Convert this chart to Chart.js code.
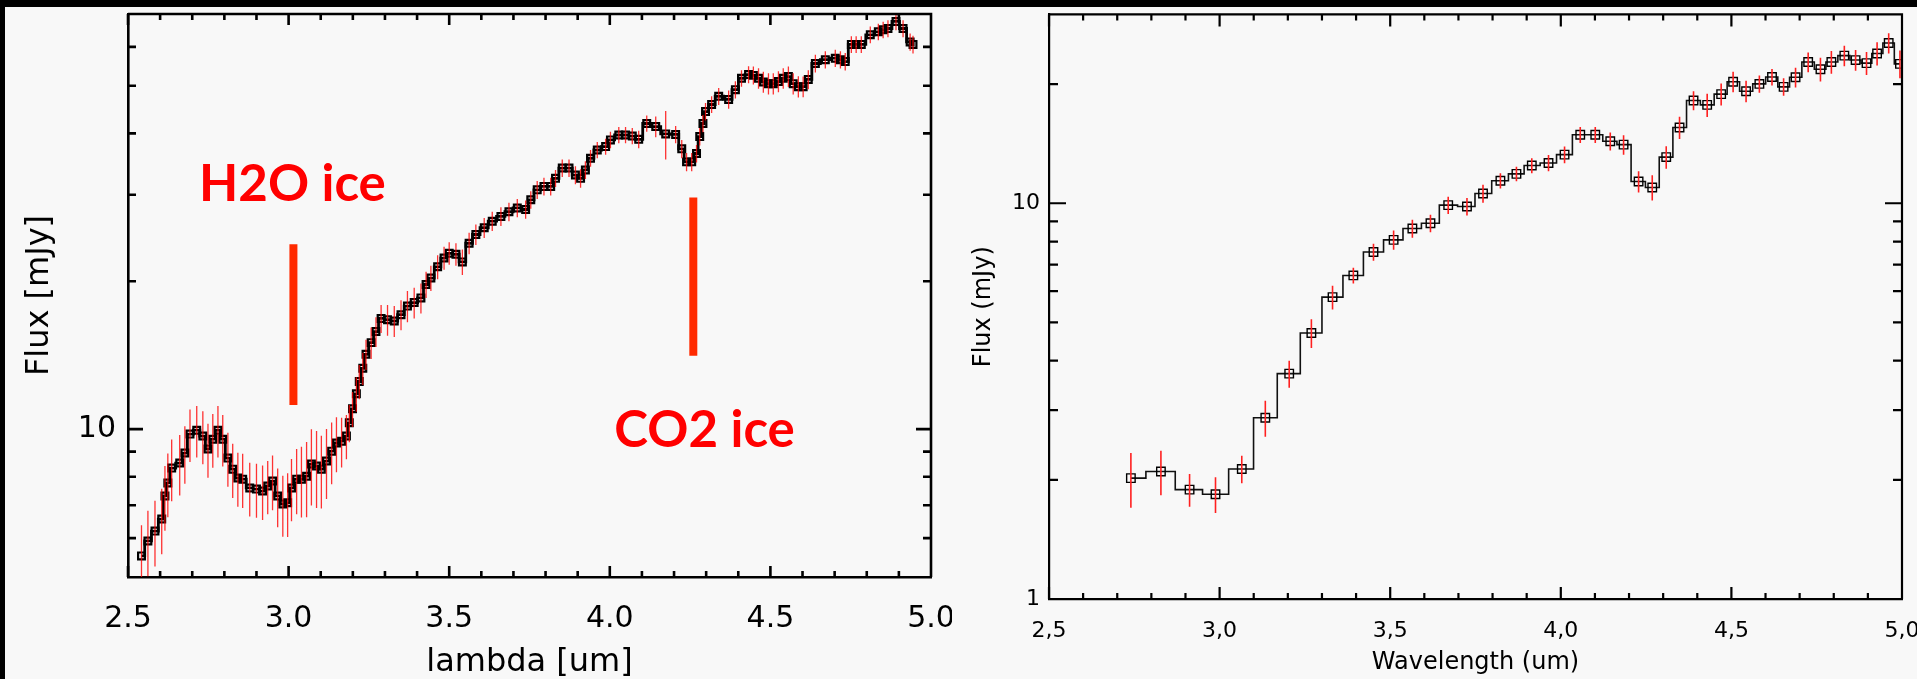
<!DOCTYPE html>
<html>
<head>
<meta charset="utf-8">
<script src="https://cdn.jsdelivr.net/npm/chart.js@4.4.1/dist/chart.umd.min.js"></script>
<style>
  html, body { margin: 0; padding: 0; overflow: hidden; }
  body { width: 1917px; height: 679px; background: #000; position: relative; }
  canvas { position: absolute; background: #f8f8f8; }
  #left { left: 5px; top: 7px; }
  #right { left: 952px; top: 7px; z-index: 2; }
</style>
</head>
<body>
<canvas id="left" width="990" height="672"></canvas>
<canvas id="right" width="1000" height="672"></canvas>
<script>
// ---- left panel: full-resolution spectrum ----
const leftWave = [
  2.542, 2.562, 2.584, 2.605, 2.615, 2.624, 2.636, 2.661, 2.677, 2.693,
  2.714, 2.733, 2.749, 2.764, 2.780, 2.795, 2.811, 2.826, 2.842, 2.857,
  2.879, 2.900, 2.919, 2.935, 2.950, 2.966, 2.982, 2.997, 3.009, 3.025,
  3.040, 3.056, 3.071, 3.087, 3.102, 3.118, 3.134, 3.149, 3.165, 3.180,
  3.189, 3.199, 3.211, 3.220, 3.231, 3.241, 3.257, 3.272, 3.288, 3.308,
  3.329, 3.350, 3.370, 3.391, 3.412, 3.428, 3.443, 3.464, 3.484, 3.500,
  3.521, 3.541, 3.562, 3.583, 3.609, 3.634, 3.661, 3.686, 3.712, 3.738,
  3.754, 3.774, 3.795, 3.816, 3.831, 3.852, 3.873, 3.893, 3.909, 3.924,
  3.940, 3.961, 3.987, 4.002, 4.028, 4.049, 4.070, 4.090, 4.115, 4.143,
  4.174, 4.205, 4.224, 4.239, 4.255, 4.270, 4.280, 4.290, 4.298, 4.317,
  4.339, 4.370, 4.391, 4.410, 4.432, 4.447, 4.463, 4.478, 4.494, 4.509,
  4.525, 4.540, 4.556, 4.571, 4.587, 4.602, 4.618, 4.640, 4.671, 4.702,
  4.718, 4.733, 4.752, 4.767, 4.783, 4.811, 4.836, 4.851, 4.866, 4.891,
  4.913, 4.935, 4.944
];
const leftFlux = [
  5.52, 5.92, 6.20, 6.56, 7.31, 7.77, 8.33, 8.53, 8.94, 9.77,
  9.95, 9.68, 9.11, 9.54, 9.95, 9.54, 8.73, 8.29, 7.95, 7.91,
  7.59, 7.55, 7.48, 7.66, 7.84, 7.31, 7.04, 7.08, 7.59, 7.91,
  7.91, 8.02, 8.49, 8.41, 8.29, 8.61, 9.02, 9.37, 9.45, 9.68,
  10.3, 11.0, 11.8, 12.5, 13.3, 14.2, 15.0, 15.8, 16.8, 16.7,
  16.6, 17.1, 17.8, 18.1, 18.5, 19.7, 20.3, 21.4, 22.3, 22.8,
  22.7, 21.9, 23.9, 24.9, 25.7, 26.5, 27.1, 27.7, 28.2, 28.0,
  29.3, 30.7, 31.2, 31.2, 32.4, 34.0, 34.0, 32.9, 32.4, 33.7,
  35.6, 37.0, 37.6, 38.8, 39.7, 39.7, 39.5, 38.9, 41.9, 41.3,
  39.9, 39.8, 37.2, 35.0, 35.0, 36.4, 39.4, 41.9, 44.3, 45.8,
  47.6, 46.9, 49.1, 51.8, 52.7, 52.5, 51.8, 50.9, 50.5, 50.5,
  51.0, 51.8, 52.2, 50.5, 49.8, 49.8, 51.5, 55.5, 56.5, 56.9,
  56.5, 56.0, 60.7, 60.7, 60.7, 63.5, 64.4, 65.0, 65.4, 67.6,
  65.4, 61.4, 60.7
];
const leftErr = [
  0.85, 0.9, 0.95, 1.0, 1.1, 1.15, 1.2, 1.2, 1.2, 1.2,
  1.2, 1.2, 1.15, 1.2, 1.2, 1.15, 1.1, 1.05, 1.0, 1.0,
  0.95, 0.95, 0.95, 0.95, 1.0, 1.0, 1.0, 1.05, 1.1, 1.2,
  1.3, 1.4, 1.5, 1.5, 1.4, 1.4, 1.3, 1.2, 1.1, 1.0,
  0.9, 0.9, 0.95, 1.0, 1.0, 1.0, 1.1, 1.1, 1.1, 1.2,
  1.2, 1.2, 1.3, 1.3, 1.3, 1.2, 1.2, 1.2, 1.2, 1.2,
  1.2, 1.3, 1.2, 1.2, 1.2, 1.2, 1.2, 1.2, 1.2, 1.2,
  1.2, 1.3, 1.3, 1.3, 1.3, 1.4, 1.4, 1.4, 1.4, 1.4,
  1.4, 1.4, 1.4, 1.5, 1.5, 1.5, 1.5, 1.6, 1.6, 2.0,
  4.5, 1.6, 1.6, 1.5, 1.5, 1.5, 1.6, 1.7, 1.8, 1.8,
  1.9, 2.0, 2.0, 2.0, 2.1, 2.2, 2.5, 2.5, 2.5, 2.5,
  2.5, 2.5, 2.5, 2.5, 2.5, 2.4, 2.3, 2.3, 2.3, 2.3,
  2.3, 2.3, 2.4, 2.4, 2.4, 2.5, 2.5, 2.5, 2.6, 2.7,
  2.6, 2.5, 2.5
];
const leftXTicks = [2.5, 2.6, 2.7, 2.8, 2.9, 3.0, 3.1, 3.2, 3.3, 3.4, 3.5, 3.6, 3.7,
  3.8, 3.9, 4.0, 4.1, 4.2, 4.3, 4.4, 4.5, 4.6, 4.7, 4.8, 4.9, 5.0];
const leftXTickLabels = ['2.5', '', '', '', '', '3.0', '', '', '', '', '3.5', '', '', '',
  '', '4.0', '', '', '', '', '4.5', '', '', '', '', '5.0'];
const leftYTicks = [6, 7, 8, 9, 10, 20, 30, 40, 50, 60];
const leftYTickLabels = ['', '', '', '', '10', '', '', '', '', ''];

// ice features: marker lines and their labels
const h2oMark = [{ x: 3.015, y: 11.2 }, { x: 3.015, y: 23.8 }];
const co2Mark = [{ x: 4.26, y: 14.1 }, { x: 4.26, y: 29.6 }];
const iceLabels = [
  { text: 'H2O ice', x: 3.012, y: 29.2 },
  { text: 'CO2 ice', x: 4.295, y: 9.2 }
];

// ---- right panel: binned spectrum ----
const rightWave = [
  2.740, 2.828, 2.912, 2.988, 3.065, 3.134, 3.204, 3.269, 3.331, 3.392,
  3.451, 3.510, 3.565, 3.618, 3.670, 3.725, 3.772, 3.823, 3.870, 3.915,
  3.964, 4.011, 4.057, 4.101, 4.145, 4.184, 4.228, 4.268, 4.309, 4.348,
  4.389, 4.429, 4.470, 4.505, 4.543, 4.582, 4.619, 4.653, 4.688, 4.725,
  4.761, 4.793, 4.831, 4.864, 4.896, 4.927, 4.961, 4.994
];
const rightFlux = [
  2.02, 2.10, 1.89, 1.84, 2.13, 2.87, 3.71, 4.70, 5.79, 6.57,
  7.53, 8.08, 8.63, 8.90, 9.89, 9.81, 10.58, 11.40, 11.86, 12.45,
  12.64, 13.27, 14.89, 14.89, 14.34, 14.06, 11.35, 10.96, 13.08, 15.54,
  18.18, 17.72, 18.87, 20.28, 19.19, 20.02, 20.84, 19.68, 20.81, 22.74,
  21.80, 22.74, 23.6, 23.0, 22.6, 23.9, 25.4, 22.5
];
const rightErr = [
  0.32, 0.27, 0.18, 0.19, 0.17, 0.30, 0.29, 0.39, 0.40, 0.30,
  0.37, 0.45, 0.45, 0.45, 0.50, 0.50, 0.55, 0.50, 0.50, 0.55,
  0.60, 0.65, 0.70, 0.70, 0.75, 0.80, 0.70, 0.80, 0.85, 1.0,
  1.0, 1.2, 1.2, 1.2, 1.2, 1.0, 1.0, 1.0, 1.2, 1.3,
  1.5, 1.5, 1.4, 1.4, 1.5, 1.6, 1.5, 1.8
];
const rightXTicks = leftXTicks;
const rightXTickLabels = ['2,5', '', '', '', '', '3,0', '', '', '', '', '3,5', '', '', '',
  '', '4,0', '', '', '', '', '4,5', '', '', '', '', '5,0'];
const rightYTicks = [1, 2, 3, 4, 5, 6, 7, 8, 9, 10, 20];
const rightYTickLabels = ['1', '', '', '', '', '', '', '', '', '10', ''];

function points(xs, ys) {
  return xs.map((x, i) => ({ x: x, y: ys[i] }));
}

// vertical error segments, separated by gaps
function errorBars(xs, ys, es) {
  const out = [];
  xs.forEach((x, i) => {
    out.push({ x: x, y: ys[i] - es[i] }, { x: x, y: ys[i] + es[i] }, { x: x, y: null });
  });
  return out;
}

// IDL style box: inward ticks on all four sides
const idlFrame = {
  id: 'idlFrame',
  afterDraw(chart, args, opts) {
    const { ctx, chartArea: a } = chart;
    const x = chart.scales.x, y = chart.scales.y;
    ctx.save();
    ctx.strokeStyle = '#000';
    ctx.lineWidth = opts.lineWidth;
    ctx.beginPath();
    ctx.moveTo(a.left, a.top);
    ctx.lineTo(a.right, a.top);
    ctx.lineTo(a.right, a.bottom);
    x.ticks.forEach(t => {
      const px = x.getPixelForValue(t.value);
      const len = t.label ? opts.xMajor : opts.xMinor;
      ctx.moveTo(px, a.bottom); ctx.lineTo(px, a.bottom - len);
      ctx.moveTo(px, a.top); ctx.lineTo(px, a.top + len);
    });
    y.ticks.forEach(t => {
      const py = y.getPixelForValue(t.value);
      const len = t.label ? opts.yMajor : opts.yMinor;
      ctx.moveTo(a.left, py); ctx.lineTo(a.left + len, py);
      ctx.moveTo(a.right, py); ctx.lineTo(a.right - len, py);
    });
    ctx.stroke();
    ctx.restore();
  }
};

const featureText = {
  id: 'featureText',
  afterDatasetsDraw(chart, args, opts) {
    if (!opts.items) return;
    const { ctx } = chart;
    ctx.save();
    ctx.fillStyle = opts.color;
    ctx.font = opts.font;
    ctx.textAlign = 'center';
    ctx.textBaseline = 'alphabetic';
    opts.items.forEach(item => {
      ctx.fillText(item.text, chart.scales.x.getPixelForValue(item.x), chart.scales.y.getPixelForValue(item.y));
    });
    ctx.restore();
  }
};

function makeOptions(cfg) {
  return {
    responsive: false,
    animation: false,
    events: [],
    layout: { padding: cfg.padding },
    plugins: {
      legend: { display: false },
      tooltip: { enabled: false },
      idlFrame: cfg.frame,
      featureText: cfg.text || {}
    },
    scales: {
      x: {
        type: 'linear',
        min: 2.5,
        max: 5.0,
        bounds: 'data',
        afterBuildTicks: s => { s.ticks = cfg.xTicks.map(v => ({ value: v })); },
        afterFit: s => { s.height = cfg.xHeight; s.paddingLeft = 0; s.paddingRight = 0; },
        grid: { display: false, drawTicks: false },
        border: { display: true, color: '#000', width: cfg.frame.lineWidth },
        ticks: {
          autoSkip: false,
          maxRotation: 0,
          padding: cfg.xPad,
          color: '#000',
          font: { family: 'DejaVu Sans', size: cfg.tickSize },
          callback: (v, i) => cfg.xLabels[i]
        },
        title: {
          display: true,
          text: cfg.xTitle,
          color: '#000',
          font: { family: 'DejaVu Sans', size: cfg.titleSize },
          padding: { top: 0, bottom: cfg.xTitlePad }
        }
      },
      y: {
        type: 'logarithmic',
        min: cfg.yMin,
        max: cfg.yMax,
        bounds: 'data',
        afterBuildTicks: s => { s.ticks = cfg.yTicks.map(v => ({ value: v })); },
        afterFit: s => { s.width = cfg.yWidth; s.paddingTop = 0; s.paddingBottom = 0; },
        grid: { display: false, drawTicks: false },
        border: { display: true, color: '#000', width: cfg.frame.lineWidth },
        ticks: {
          autoSkip: false,
          padding: cfg.yPad,
          color: '#000',
          font: { family: 'DejaVu Sans', size: cfg.tickSize },
          callback: (v, i) => cfg.yLabels[i]
        },
        title: {
          display: true,
          text: cfg.yTitle,
          color: '#000',
          font: { family: 'DejaVu Sans', size: cfg.titleSize },
          padding: { top: cfg.yTitlePad, bottom: 0 }
        }
      }
    }
  };
}

new Chart(document.getElementById('left'), {
  type: 'line',
  data: {
    datasets: [
      {
        data: points(leftWave, leftFlux),
        stepped: 'middle',
        borderColor: '#000',
        borderWidth: 2.8,
        pointStyle: 'rect',
        pointRadius: 4.8,
        pointBorderWidth: 2.2,
        pointBorderColor: '#000',
        pointBackgroundColor: 'rgba(0,0,0,0)',
        order: 2
      },
      {
        data: errorBars(leftWave, leftFlux, leftErr),
        borderColor: 'rgba(255,0,0,0.8)',
        borderWidth: 1.3,
        pointRadius: 0,
        spanGaps: false,
        order: 1
      },
      { data: h2oMark, borderColor: '#ff2a00', borderWidth: 8, pointRadius: 0, order: 0 },
      { data: co2Mark, borderColor: '#ff2a00', borderWidth: 8, pointRadius: 0, order: 0 }
    ]
  },
  options: makeOptions({
    padding: { top: 5, right: 64, left: 0, bottom: 0 },
    xTicks: leftXTicks, xLabels: leftXTickLabels,
    yTicks: leftYTicks, yLabels: leftYTickLabels,
    yMin: 5, yMax: 70,
    xHeight: 102, yWidth: 123,
    xPad: 24, yPad: 12,
    tickSize: 30, titleSize: 32,
    xTitle: 'lambda [um]', yTitle: 'Flux [mJy]',
    xTitlePad: -3, yTitlePad: 15,
    frame: { lineWidth: 2.6, xMajor: 11, xMinor: 6, yMajor: 15, yMinor: 8 },
    text: { items: iceLabels, color: '#ff0000', font: 'bold 51px Lato' }
  }),
  plugins: [idlFrame, featureText]
});

new Chart(document.getElementById('right'), {
  type: 'line',
  data: {
    datasets: [
      {
        data: points(rightWave, rightFlux),
        stepped: 'middle',
        borderColor: '#111',
        borderWidth: 1.6,
        pointStyle: 'rect',
        pointRadius: 6,
        pointBorderWidth: 1.4,
        pointBorderColor: '#000',
        pointBackgroundColor: 'rgba(0,0,0,0)',
        order: 1
      },
      {
        data: errorBars(rightWave, rightFlux, rightErr),
        borderColor: '#ff2020',
        borderWidth: 1.6,
        pointRadius: 0,
        spanGaps: false,
        order: 0
      }
    ]
  },
  options: makeOptions({
    padding: { top: 3, right: 50, left: 0, bottom: 0 },
    xTicks: rightXTicks, xLabels: rightXTickLabels,
    yTicks: rightYTicks, yLabels: rightYTickLabels,
    yMin: 1, yMax: 30,
    xHeight: 80, yWidth: 97,
    xPad: 19, yPad: 9,
    tickSize: 22, titleSize: 24,
    xTitle: 'Wavelength (um)', yTitle: 'Flux (mJy)',
    xTitlePad: 2, yTitlePad: 17,
    frame: { lineWidth: 2.2, xMajor: 12, xMinor: 6, yMajor: 17, yMinor: 9 }
  }),
  plugins: [idlFrame, featureText]
});
</script>
</body>
</html>
